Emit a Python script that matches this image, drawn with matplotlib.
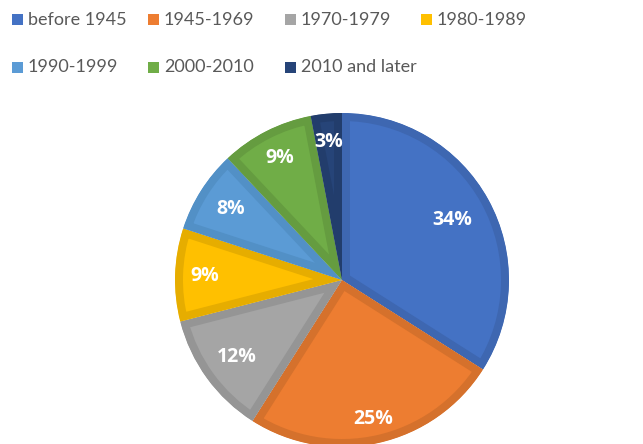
import matplotlib
matplotlib.use("Agg")
import matplotlib.pyplot as plt
from matplotlib.patches import Rectangle
import numpy as np

categories = ["before 1945", "1945-1969", "1970-1979", "1980-1989",
              "1990-1999", "2000-2010", "2010 and later"]
values = [34, 25, 12, 9, 8, 9, 3]
labels = ["34%", "25%", "12%", "9%", "8%", "9%", "3%"]

fill_colors = ["#4472C4", "#ED7D31", "#A5A5A5", "#FFC000", "#5B9BD5", "#70AD47", "#264478"]
edge_colors = ["#3E67B1", "#D5712C", "#959595", "#E6AD00", "#5290C6", "#659C40", "#223D6C"]
label_r = [0.75, 0.85, 0.78, 0.82, 0.79, 0.82, 0.83]

W, H = 643, 444
fig = plt.figure(figsize=(W / 100, H / 100), dpi=100)

cx, cy, R = 342, 280, 167
ax = fig.add_axes([(cx - R) / W, (H - cy - R) / H, 2 * R / W, 2 * R / H])
wedges, _ = ax.pie(values, colors=fill_colors, startangle=90, counterclock=False,
                   radius=1.0, wedgeprops=dict(linewidth=0))
for w, ec in zip(wedges, edge_colors):
    w.set_edgecolor(ec)
    w.set_linewidth(11.5)
    w.set_joinstyle("round")
    w.set_clip_on(True)
    w.set_clip_path(w)

for w, lab, r in zip(wedges, labels, label_r):
    ang = np.deg2rad((w.theta1 + w.theta2) / 2)
    ax.text(r * np.cos(ang), r * np.sin(ang), lab, ha="center", va="center",
            color="white", fontsize=14, fontweight="bold", family="Open Sans")
ax.set_xlim(-1, 1)
ax.set_ylim(-1, 1)
ax.set_aspect("equal")
ax.axis("off")

# legend
col_x = [12, 148, 285, 421]
row_y = [20, 67]
for i, (cat, col) in enumerate(zip(categories, fill_colors)):
    r, c = divmod(i, 4)
    x = col_x[c]
    y = row_y[r]
    fig.add_artist(Rectangle((x / W, (H - y - 5.5) / H), 11 / W, 11 / H,
                             transform=fig.transFigure, color=col, lw=0))
    fig.text((x + 16) / W, (H - y) / H, cat, ha="left", va="center",
             fontsize=13, color="#595959", family="Lato")

fig.savefig("out.png", dpi=100)
